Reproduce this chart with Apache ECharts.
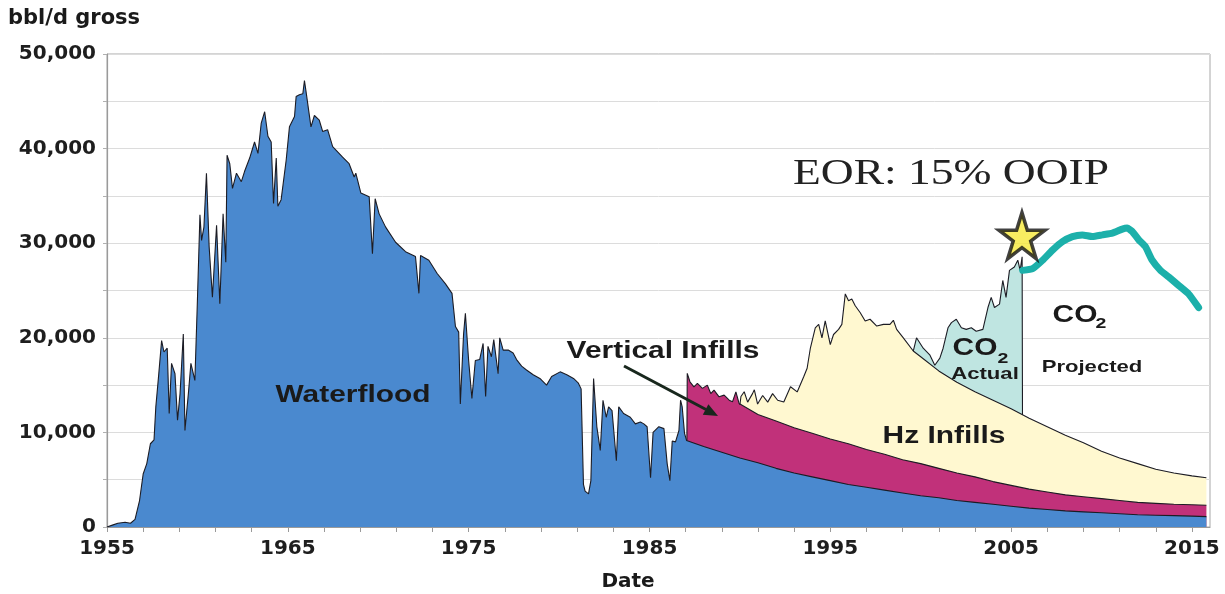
<!DOCTYPE html>
<html>
<head>
<meta charset="utf-8">
<script src="https://cdn.jsdelivr.net/npm/echarts@6/dist/echarts.min.js"></script>
<style>
html,body{margin:0;padding:0;background:#fff;}
#chart{width:1225px;height:594px;}
</style>
</head>
<body>
<div id="chart"></div>
<script>
// ---- data ----
const xLabelYears = [1955, 1965, 1975, 1985, 1995, 2005, 2015];
const yLabelValues = [0, 10000, 20000, 30000, 40000, 50000];

const waterflood = [
  [1955.0,0],[1955.3,200],[1955.6,400],[1956.0,500],[1956.3,400],[1956.55,800],[1956.8,2800],
  [1957.0,5600],[1957.2,6700],[1957.4,8800],[1957.6,9200],[1957.7,12700],[1957.85,15900],
  [1958.02,19700],[1958.15,18500],[1958.33,18900],[1958.44,12000],[1958.57,17300],[1958.76,16200],
  [1958.9,11300],[1959.04,14100],[1959.22,20400],[1959.31,10200],[1959.5,14100],[1959.64,17300],
  [1959.86,15500],[1959.99,23300],[1960.14,33000],[1960.23,30300],[1960.36,31700],[1960.5,37400],
  [1960.65,29600],[1960.83,24300],[1961.06,31900],[1961.24,23600],[1961.42,33100],[1961.57,28000],
  [1961.64,39300],[1961.79,38400],[1961.94,35800],[1962.16,37400],[1962.43,36500],[1962.61,37600],
  [1962.89,39000],[1963.16,40700],[1963.35,39500],[1963.53,42700],[1963.72,43900],[1963.9,41300],
  [1964.08,40700],[1964.21,34200],[1964.36,39000],[1964.45,33900],[1964.63,34600],[1964.91,38800],
  [1965.09,42300],[1965.37,43400],[1965.46,45500],[1965.64,45700],[1965.83,45800],[1965.92,47200],
  [1966.01,46000],[1966.1,46200],[1966.28,42300],[1966.47,43500],[1966.74,43000],[1966.93,41800],
  [1967.2,42000],[1967.48,40200],[1968.03,39100],[1968.39,38400],[1968.67,37000],[1968.76,37400],
  [1969.04,35300],[1969.5,34900],[1969.68,28900],[1969.83,34700],[1970.05,33100],[1970.41,31700],
  [1970.96,30100],[1971.51,29100],[1972.06,28600],[1972.25,24700],[1972.34,28700],[1972.8,28200],
  [1973.26,26800],[1973.72,25700],[1974.08,24700],[1974.27,21200],[1974.45,20600],[1974.54,13000],
  [1974.72,20400],[1974.82,22600],[1975.0,17600],[1975.18,13600],[1975.37,17600],[1975.61,17700],
  [1975.8,19400],[1975.94,13800],[1976.07,19100],[1976.26,18000],[1976.39,19800],[1976.63,16200],
  [1976.72,20000],[1976.91,18700],[1977.19,18700],[1977.46,18400],[1977.65,17700],[1977.93,17000],
  [1978.2,16600],[1978.57,16100],[1978.94,15700],[1979.31,15000],[1979.59,15900],[1980.06,16400],
  [1980.43,16100],[1980.8,15700],[1981.07,15200],[1981.22,14600],[1981.35,4500],[1981.44,3800],
  [1981.63,3500],[1981.76,4900],[1981.91,15700],[1982.09,10600],[1982.28,8100],[1982.43,13400],
  [1982.61,11600],[1982.74,12700],[1982.93,12300],[1983.17,7000],[1983.3,12700],[1983.57,12000],
  [1983.94,11600],[1984.22,10900],[1984.5,11100],[1984.69,10900],[1984.87,10600],[1985.06,5200],
  [1985.2,10000],[1985.52,10600],[1985.8,10400],[1985.98,6700],[1986.13,4900],[1986.26,9100],
  [1986.44,9000],[1986.63,10200],[1986.72,13400],[1986.81,12700],[1986.94,9900],[1987.05,9150],
  [1988,8500],[1989,7900],[1990,7300],[1991,6800],[1992,6200],[1993,5700],[1994,5300],[1995,4900],
  [1996,4500],[1997,4200],[1998,3900],[1999,3600],[2000,3300],[2001,3100],[2002,2800],[2003,2600],
  [2004,2400],[2005,2200],[2006,2000],[2007,1850],[2008,1700],[2009,1600],[2010,1500],[2011,1400],
  [2012,1300],[2013,1250],[2014,1200],[2015,1150],[2015.8,1100]
];

const verticalInfillsTop = [
  [1987.07,9150],[1987.09,16240],[1987.24,15350],[1987.46,14820],[1987.65,15180],[1987.93,14650],
  [1988.2,15000],[1988.39,14110],[1988.57,14470],[1988.85,13760],[1989.13,13940],[1989.41,13400],
  [1989.59,13230],[1989.78,14290],[1989.96,13050],[1990,12900],[1991,11900],[1992,11200],
  [1993,10500],[1994,9900],[1995,9300],[1996,8800],[1997,8200],[1998,7700],[1999,7100],[2000,6700],
  [2001,6200],[2002,5700],[2003,5300],[2004,4800],[2005,4400],[2006,4000],[2007,3700],[2008,3400],
  [2009,3200],[2010,3000],[2011,2800],[2012,2600],[2013,2500],[2014,2400],[2015,2350],[2015.8,2300]
];

const hzInfillsTop = [
  [1990.0,12900],[1990.06,13800],[1990.24,14300],[1990.43,13200],[1990.7,14100],[1990.8,14500],
  [1990.98,13000],[1991.26,13900],[1991.54,13200],[1991.81,14100],[1992.09,13400],[1992.43,13210],
  [1992.8,14820],[1993.17,14280],[1993.53,15890],[1993.72,16780],[1993.9,18920],[1994.17,21060],
  [1994.36,21420],[1994.54,20000],[1994.72,21780],[1995.0,19280],[1995.18,20350],[1995.46,20890],
  [1995.64,21420],[1995.83,24640],[1996.01,23920],[1996.19,24100],[1996.38,23390],[1996.65,22670],
  [1996.93,21780],[1997.2,21960],[1997.57,21240],[1997.94,21420],[1998.3,21420],[1998.49,21850],
  [1998.67,20890],[1999.04,20000],[1999.59,18600],[2000,18000],[2001,16500],[2002,15300],
  [2003,14300],[2004,13400],[2005,12500],[2006,11500],[2007,10600],[2008,9700],[2009,8900],
  [2010,8000],[2011,7300],[2012,6700],[2013,6100],[2014,5700],[2015,5400],[2015.8,5200]
];

const co2ActualTop = [
  [1999.59,18600],[1999.77,20000],[2000.14,18900],[2000.5,18200],[2000.78,17100],[2001.06,17850],
  [2001.24,18900],[2001.51,21060],[2001.7,21600],[2001.97,21960],[2002.25,21060],[2002.52,20890],
  [2002.8,21060],[2003.07,20700],[2003.44,20890],[2003.72,23200],[2003.9,24280],[2004.08,23200],
  [2004.36,23560],[2004.54,26060],[2004.72,24280],[2004.91,27130],[2005.18,27490],[2005.37,28200],
  [2005.5,27130],[2005.61,28560],[2005.63,11850]
];

const co2Projected = [
  [2005.64,27130],[2006.19,27310],[2006.74,28200],[2007.29,29270],[2007.84,30170],[2008.39,30700],
  [2008.94,30880],[2009.5,30700],[2010.05,30880],[2010.6,31060],[2011.15,31490],[2011.42,31600],
  [2011.7,31240],[2012.06,30350],[2012.43,29630],[2012.8,28200],[2013.26,27130],[2013.72,26420],
  [2014.27,25530],[2014.82,24630],[2015.37,23200]
];

const starPoint = [[2005.6, 30800]];

// ---- chart ----
const chart = echarts.init(document.getElementById('chart'), null, {renderer: 'canvas'});
const AXIS_FONT = 'DejaVu Sans';
const ANN_FONT = '"Liberation Sans", Arial, sans-serif';
const STAR = 'path://M50,0 L61.17,34.63 L97.55,34.55 L68.07,55.87 L79.39,90.45 L50,69 L20.61,90.45 L31.93,55.87 L2.45,34.55 L38.83,34.63 Z';

function areaSeries(name, data, color) {
  return {
    name: name, type: 'line', data: data, showSymbol: false, symbol: 'none', smooth: false,
    lineStyle: {color: '#1c1c24', width: 1.1},
    areaStyle: {color: color, opacity: 1, origin: 'start'},
    z: 2, silent: true
  };
}

function annText(text, x, y, size, opts) {
  opts = opts || {};
  return {
    type: 'text', x: x, y: y, scaleX: opts.scaleX || 1.3, scaleY: 1, z: 100,
    style: {
      text: text, fontSize: size, fontWeight: opts.weight || 'bold',
      fontFamily: opts.family || ANN_FONT, fill: opts.color || '#1a1a1a',
      align: opts.align || 'center', verticalAlign: opts.valign || 'middle',
      textAlign: opts.align || 'center', textVerticalAlign: opts.valign || 'middle'
    }
  };
}

const option = {
  backgroundColor: '#ffffff',
  animation: false,
  grid: {left: 107, right: 15, top: 54, bottom: 67, show: true, borderColor: '#a8a8a8', borderWidth: 1, backgroundColor: 'transparent'},
  xAxis: {
    type: 'value', min: 1955, max: 2016, interval: 2,
    axisLine: {show: true, onZero: false, lineStyle: {color: '#9a9a9a', width: 1.2}},
    axisTick: {show: true, length: 5, lineStyle: {color: '#9a9a9a'}},
    splitLine: {show: false},
    axisLabel: {
      margin: 12, fontSize: 20, fontWeight: 'bold', fontFamily: AXIS_FONT, color: '#1e1e1e',
      showMaxLabel: false,
      formatter: function (v) { const r = Math.round(v); return xLabelYears.indexOf(r) >= 0 ? String(r) : ''; }
    }
  },
  yAxis: {
    type: 'value', min: 0, max: 50000, interval: 5000,
    axisLine: {show: true, lineStyle: {color: '#9a9a9a', width: 1.2}},
    axisTick: {show: true, length: 4, lineStyle: {color: '#b0b0b0'}},
    splitLine: {show: true, lineStyle: {color: '#dcdcdc', width: 1}},
    axisLabel: {
      margin: 11, fontSize: 20, fontWeight: 'bold', fontFamily: AXIS_FONT, color: '#1e1e1e',
      formatter: function (v) { return yLabelValues.indexOf(v) >= 0 ? v.toLocaleString('en-US') : ''; }
    }
  },
  series: [
    areaSeries('CO2 Actual', co2ActualTop, '#bfe5e1'),
    areaSeries('Hz Infills', hzInfillsTop, '#fff8d0'),
    areaSeries('Vertical Infills', verticalInfillsTop, '#c1317a'),
    areaSeries('Waterflood', waterflood, '#4a89cf'),
    {
      name: 'CO2 Projected', type: 'line', data: co2Projected, showSymbol: false, symbol: 'none',
      smooth: 0.15, lineStyle: {color: '#1cb0aa', width: 7, cap: 'round', join: 'round'}, z: 5, silent: true
    },
    {
      name: 'Star', type: 'scatter', data: starPoint, symbol: STAR, symbolSize: [46, 46],
      itemStyle: {color: '#f6e93a', borderColor: '#111', borderWidth: 3.5}, z: 6, silent: true
    }
  ],
  graphic: [
    annText('bbl/d gross', 8, 8, 21, {scaleX: 1, family: AXIS_FONT, align: 'left', valign: 'top'}),
    annText('Date', 628, 582, 20, {scaleX: 1, family: AXIS_FONT}),
    annText('EOR: 15% OOIP', 951, 175, 35, {weight: 'normal', family: '"Liberation Serif", "Times New Roman", serif', color: '#222'}),
    annText('Waterflood', 353, 396, 23),
    annText('Vertical Infills', 663, 352, 23),
    annText('Hz Infills', 944, 437, 23),
    annText('CO', 975, 349, 23),
    annText('2', 1003, 359, 15),
    annText('Actual', 985, 374, 17),
    annText('CO', 1075, 316, 23),
    annText('2', 1101, 324, 15),
    annText('Projected', 1092, 367, 17),
    {type: 'line', z: 100, shape: {x1: 624, y1: 366, x2: 706, y2: 409.5}, style: {stroke: '#18271d', lineWidth: 3}},
    {type: 'polygon', z: 100, shape: {points: [[718, 416], [702.8, 414.8], [708.4, 404.2]]}, style: {fill: '#18271d'}}
  ]
};
chart.setOption(option);
</script>
</body>
</html>
